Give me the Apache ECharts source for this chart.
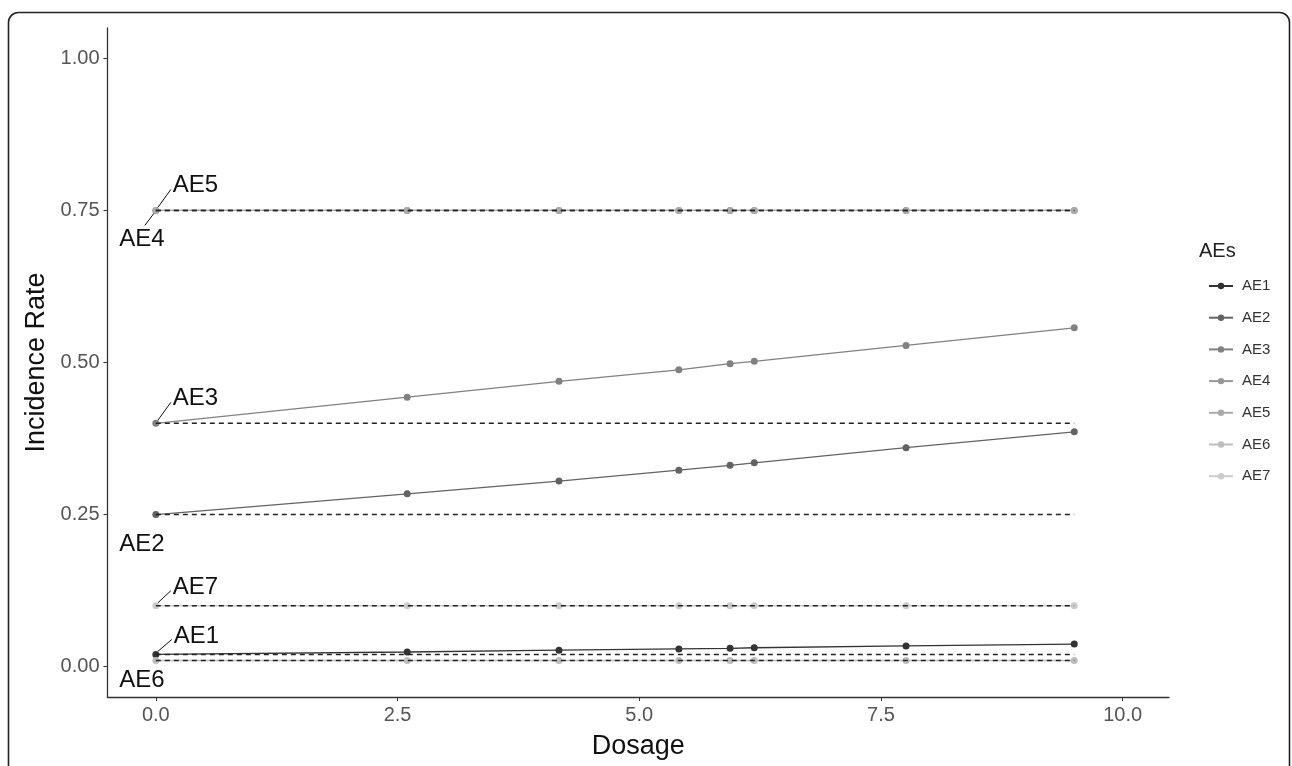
<!DOCTYPE html>
<html>
<head>
<meta charset="utf-8">
<script src="https://cdn.jsdelivr.net/npm/echarts@6/dist/echarts.min.js"></script>
<style>
html,body{margin:0;padding:0;background:#fff;}
#chart{width:1292px;height:766px;}
</style>
</head>
<body>
<div id="chart"></div>
<script>
// ---- data ----
const dosage = [0, 2.6, 4.17, 5.41, 5.94, 6.19, 7.76, 9.5];
const aeNames = ['AE1','AE2','AE3','AE4','AE5','AE6','AE7'];
const AE1 = [0.020, 0.024, 0.027, 0.029, 0.030, 0.031, 0.034, 0.037];
const AE2 = [0.250, 0.284, 0.305, 0.323, 0.331, 0.335, 0.360, 0.386];
const AE3 = [0.400, 0.443, 0.469, 0.488, 0.498, 0.502, 0.528, 0.557];
const AE4 = [0.75, 0.75, 0.75, 0.75, 0.75, 0.75, 0.75, 0.75];
const AE5 = [0.75, 0.75, 0.75, 0.75, 0.75, 0.75, 0.75, 0.75];
const AE6 = [0.01, 0.01, 0.01, 0.01, 0.01, 0.01, 0.01, 0.01];
const AE7 = [0.10, 0.10, 0.10, 0.10, 0.10, 0.10, 0.10, 0.10];
const baseline = [0.02, 0.25, 0.40, 0.75, 0.75, 0.01, 0.10];
const xTicks = [0, 2.5, 5, 7.5, 10];
const yTicks = [0, 0.25, 0.5, 0.75, 1];
const labelNames = ['AE5','AE4','AE3','AE2','AE7','AE1','AE6'];
const labelY = [0.75, 0.75, 0.40, 0.25, 0.10, 0.02, 0.01];

// ---- styles ----
const colors = ['#333333','#636363','#818181','#989898','#ABABAB','#BDBDBD','#CCCCCC'];
const FONT = '"Liberation Sans", Arial, sans-serif';
// label placement relative to point (pixels)
const labelStyle = {
  AE5: {dx: 17, dy: -25, align: 'left', line: [2, -3, 15, -21]},
  AE4: {dx: -14, dy: 29, align: 'center', line: [-2, 3, -11, 15]},
  AE3: {dx: 17, dy: -25, align: 'left', line: [2, -3, 15, -21]},
  AE2: {dx: -14, dy: 30, align: 'center', line: null},
  AE7: {dx: 17, dy: -18, align: 'left', line: [2, -3, 15, -15]},
  AE1: {dx: 18, dy: -18, align: 'left', line: [2, -3, 16, -15]},
  AE6: {dx: -14, dy: 20, align: 'center', line: null}
};

const seriesVals = [AE1, AE2, AE3, AE4, AE5, AE6, AE7];
const series = [];
seriesVals.forEach((vals, i) => {
  series.push({
    name: aeNames[i],
    type: 'line',
    data: dosage.map((d, j) => [d, vals[j]]),
    symbol: 'circle',
    symbolSize: 7,
    showSymbol: true,
    lineStyle: {color: colors[i], width: 1.3},
    itemStyle: {color: colors[i]},
    z: 2,
    animation: false
  });
});
baseline.forEach((b, i) => {
  series.push({
    name: aeNames[i] + ' baseline',
    type: 'line',
    data: [[dosage[0], b], [dosage[dosage.length - 1], b]],
    symbol: 'none',
    lineStyle: {color: '#222', width: 1.5, type: [5, 4]},
    z: 3,
    silent: true,
    animation: false
  });
});
series.push({
  type: 'custom',
  name: 'labels',
  data: labelY.map((y, i) => [0, y, i]),
  z: 5,
  animation: false,
  renderItem: function (params, api) {
    const p = api.coord([api.value(0), api.value(1)]);
    const nm = labelNames[api.value(2)];
    const s = labelStyle[nm];
    const children = [];
    if (s.line) {
      children.push({
        type: 'line',
        shape: {x1: p[0] + s.line[0], y1: p[1] + s.line[1], x2: p[0] + s.line[2], y2: p[1] + s.line[3]},
        style: {stroke: '#111', lineWidth: 1}
      });
    }
    children.push({
      type: 'text',
      x: p[0] + s.dx,
      y: p[1] + s.dy,
      style: {text: nm, fill: '#111', font: '24px ' + FONT, align: s.align, verticalAlign: 'middle'}
    });
    return {type: 'group', children: children};
  }
});

const chart = echarts.init(document.getElementById('chart'), null, {renderer: 'canvas'});
chart.setOption({
  backgroundColor: '#fff',
  animation: false,
  textStyle: {fontFamily: FONT},
  grid: {left: 107.5, top: 28, right: 123, bottom: 69, containLabel: false},
  title: {
    text: 'AEs', left: 1194, top: 236,
    textStyle: {fontSize: 20, fontWeight: 'normal', color: '#222', fontFamily: FONT}
  },
  legend: {
    data: aeNames,
    orient: 'vertical',
    left: 1203, top: 273.5,
    itemWidth: 24, itemHeight: 8, itemGap: 16.7,
    textStyle: {fontSize: 15, color: '#333', fontFamily: FONT, padding: [0, 0, 0, 4]}
  },
  xAxis: {
    type: 'value', min: -0.5, max: 10.48,
    name: 'Dosage', nameLocation: 'middle', nameGap: 36,
    nameTextStyle: {fontSize: 27, color: '#111', fontFamily: FONT},
    axisLine: {show: true, onZero: false, lineStyle: {color: '#333', width: 1.3}},
    axisTick: {show: true, length: 4, lineStyle: {color: '#333'}, customValues: xTicks},
    axisLabel: {customValues: xTicks, formatter: v => v.toFixed(1), fontSize: 20, color: '#555', margin: 8, fontFamily: FONT},
    splitLine: {show: false}
  },
  yAxis: {
    type: 'value', min: -0.05, max: 1.05,
    name: 'Incidence Rate', nameLocation: 'middle', nameGap: 55,
    nameTextStyle: {fontSize: 27, color: '#111', fontFamily: FONT},
    axisLine: {show: true, onZero: false, lineStyle: {color: '#333', width: 1.3}},
    axisTick: {show: true, length: 4, lineStyle: {color: '#333'}, customValues: yTicks},
    axisLabel: {customValues: yTicks, formatter: v => v.toFixed(2), fontSize: 20, color: '#555', margin: 8, fontFamily: FONT},
    splitLine: {show: false}
  },
  graphic: [{
    type: 'rect', left: 6, top: 10,
    shape: {width: 1281, height: 800, r: 10},
    style: {fill: 'none', stroke: '#222', lineWidth: 1.6},
    silent: true, z: 100
  }],
  series: series
});
</script>
</body>
</html>
